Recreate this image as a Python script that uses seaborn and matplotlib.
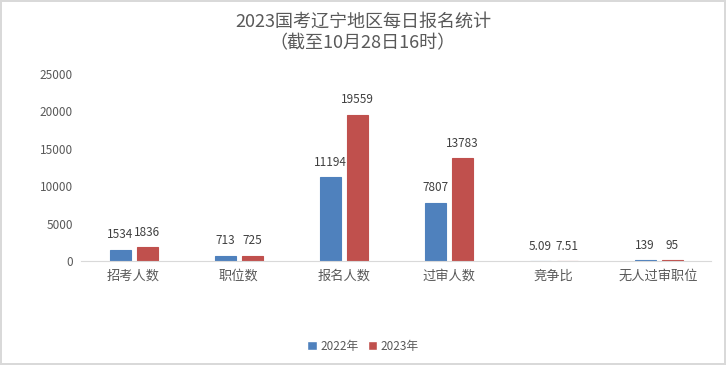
import pandas as pd
import matplotlib.pyplot as plt
import seaborn as sns
from matplotlib.ticker import FixedLocator

categories = ["招考人数", "职位数", "报名人数", "过审人数", "竞争比", "无人过审职位"]
years = ["2022年", "2023年"]
values_2022 = [1534, 713, 11194, 7807, 5.09, 139]
values_2023 = [1836, 725, 19559, 13783, 7.51, 95]
labels_2022 = ["1534", "713", "11194", "7807", "5.09", "139"]
labels_2023 = ["1836", "725", "19559", "13783", "7.51", "95"]
colors = ["#4F81BD", "#C0504D"]

df = pd.DataFrame({
    "类别": categories * 2,
    "年份": [years[0]] * len(categories) + [years[1]] * len(categories),
    "数值": values_2022 + values_2023,
})

sns.set_style("white")
plt.rcParams["font.family"] = ["Noto Sans CJK SC", "DejaVu Sans"]

text_color = "#595959"
fig = plt.figure(figsize=(7.26, 3.65), dpi=100, edgecolor="#d9d9d9", linewidth=1.5)
ax_left, ax_width = 0.1116, 0.868
ax_bottom, ax_height = 0.285, 0.512
ax = fig.add_axes([ax_left, ax_bottom, ax_width, ax_height])

sns.barplot(data=df, x="类别", y="数值", hue="年份", palette=colors,
            width=0.514, gap=0.22, saturation=1, ax=ax, legend=True)

# 柱子描边与填充同色，让很小的数值也能看到一条线
for container in ax.containers:
    for bar in container:
        bar.set_edgecolor(bar.get_facecolor())
        bar.set_linewidth(0.8)

# 数据标签
for container, labs in zip(ax.containers, [labels_2022, labels_2023]):
    ax.bar_label(container, labels=labs, padding=6, fontsize=8.5, color="#404040")

ax.set_ylim(0, 25000)
ax.set_yticks(range(0, 25001, 5000))
ax.set_xlim(-0.5, len(categories) - 0.5)
ax.set_xlabel("")
ax.set_ylabel("")

for side in ["top", "right", "left"]:
    ax.spines[side].set_visible(False)
ax.spines["bottom"].set_color("#d9d9d9")

ax.tick_params(axis="y", length=0, labelsize=8.5, labelcolor=text_color, pad=6)
ax.tick_params(axis="x", which="major", length=0, labelsize=9.5, labelcolor=text_color, pad=6)
ax.xaxis.set_minor_locator(FixedLocator([i - 0.5 for i in range(len(categories) + 1)]))
ax.tick_params(axis="x", which="minor", length=4, color="#d9d9d9", direction="out")

fig.suptitle("2023国考辽宁地区每日报名统计\n（截至10月28日16时）",
             y=0.965, fontsize=13, color=text_color, linespacing=1.25)

ax.legend(loc="center", bbox_to_anchor=((0.5 - ax_left) / ax_width, (0.052 - ax_bottom) / ax_height),
          ncol=2, frameon=False, fontsize=8.5, handlelength=0.8, handleheight=0.8,
          handletextpad=0.3, columnspacing=0.8, labelcolor=text_color)

fig.savefig("out.png", dpi=100, edgecolor=fig.get_edgecolor())
